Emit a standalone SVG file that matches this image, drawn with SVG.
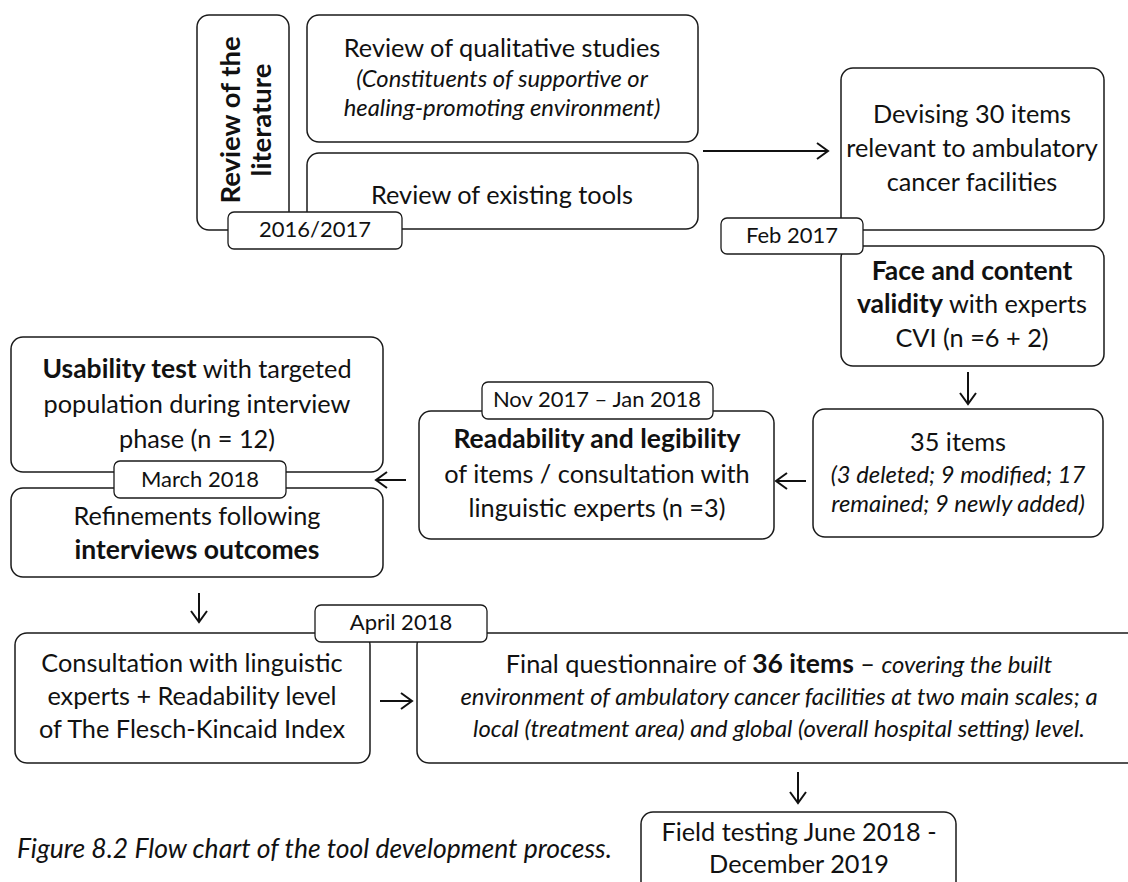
<svg xmlns="http://www.w3.org/2000/svg" width="1128" height="882" viewBox="0 0 1128 882">
<defs>
<style>
.box{fill:#fff;stroke:#1a1a1a;stroke-width:1.5}
.lbl{fill:#fff;stroke:#1a1a1a;stroke-width:1.3}
text{font-family:Lato,"Liberation Sans",sans-serif;font-size:25.3px;fill:#111;text-anchor:middle}
text.l{font-size:22px}
.b{font-weight:bold;font-size:26.5px}
.i{font-style:italic;font-size:23.8px}
.v{font-weight:bold;font-size:27.5px}
.cap{font-style:italic;font-size:26.5px;text-anchor:start}
.conn{stroke:#111;stroke-width:2;fill:none;marker-end:url(#ah)}
</style>
<marker id="ah" markerWidth="16" markerHeight="20" viewBox="-13 -10 16 20" refX="0" refY="0" orient="auto" markerUnits="userSpaceOnUse">
<path d="M-11,-8 L0,0 L-11,8" fill="none" stroke="#111" stroke-width="2"/>
</marker>
</defs>
<rect width="1128" height="882" fill="#fff"/>

<g id="connectors">
<line class="conn" x1="703" y1="151" x2="828" y2="151"/>
<line class="conn" x1="968" y1="372" x2="968" y2="404"/>
<line class="conn" x1="806" y1="481" x2="776" y2="481"/>
<line class="conn" x1="406" y1="480" x2="376" y2="480"/>
<line class="conn" x1="199" y1="593" x2="199" y2="622"/>
<line class="conn" x1="380" y1="701" x2="412" y2="701"/>
<line class="conn" x1="798" y1="772" x2="798" y2="803"/>
</g>

<g id="literature">
<rect class="box" x="197" y="15" width="92" height="215" rx="12"/>
<text class="v" transform="translate(240,120) rotate(-90)">Review of the</text>
<text class="v" transform="translate(271,120) rotate(-90)">literature</text>
</g>

<g id="qualitative">
<rect class="box" x="307" y="15" width="391" height="127" rx="12"/>
<text x="502" y="57">Review of qualitative studies</text>
<text class="i" x="502" y="87">(Constituents of supportive or</text>
<text class="i" x="502" y="116">healing-promoting environment)</text>
</g>

<g id="tools">
<rect class="box" x="307" y="153" width="391" height="76" rx="12"/>
<text x="502" y="204">Review of existing tools</text>
</g>

<g id="label-2016">
<rect class="lbl" x="228" y="212" width="174" height="37" rx="6"/>
<text class="l" x="315" y="237">2016/2017</text>
</g>

<g id="devising">
<rect class="box" x="841" y="68" width="263" height="162" rx="12"/>
<text x="972" y="123">Devising 30 items</text>
<text x="972" y="157">relevant to ambulatory</text>
<text x="972" y="191">cancer facilities</text>
</g>

<g id="face">
<rect class="box" x="841" y="246" width="263" height="120" rx="12"/>
<text class="b" x="972" y="280">Face and content</text>
<text x="972" y="313"><tspan class="b">validity</tspan> with experts</text>
<text x="972" y="347">CVI (n =6 + 2)</text>
</g>

<g id="label-feb">
<rect class="lbl" x="721" y="218" width="142" height="36" rx="6"/>
<text class="l" x="792" y="243">Feb 2017</text>
</g>

<g id="items35">
<rect class="box" x="813" y="409" width="290" height="128" rx="12"/>
<text x="958" y="451">35 items</text>
<text class="i" x="958" y="483">(3 deleted; 9 modified; 17</text>
<text class="i" x="958" y="512">remained; 9 newly added)</text>
</g>

<g id="readability">
<rect class="box" x="419" y="411" width="355" height="128" rx="12"/>
<text class="b" x="597" y="448">Readability and legibility</text>
<text x="597" y="483">of items / consultation with</text>
<text x="597" y="517">linguistic experts (n =3)</text>
</g>

<g id="label-nov">
<rect class="lbl" x="482" y="382" width="231" height="37" rx="6"/>
<text class="l" x="597" y="407">Nov 2017 – Jan 2018</text>
</g>

<g id="usability">
<rect class="box" x="11" y="337" width="372" height="135" rx="12"/>
<text x="197" y="378"><tspan class="b">Usability test</tspan> with targeted</text>
<text x="197" y="413">population during interview</text>
<text x="197" y="448">phase (n = 12)</text>
</g>

<g id="refinements">
<rect class="box" x="11" y="488" width="372" height="89" rx="12"/>
<text x="197" y="525">Refinements following</text>
<text class="b" x="197" y="559">interviews outcomes</text>
</g>

<g id="label-march">
<rect class="lbl" x="114" y="461" width="172" height="37" rx="6"/>
<text class="l" x="200" y="487">March 2018</text>
</g>

<g id="consultation">
<rect class="box" x="15" y="633" width="355" height="130" rx="12"/>
<text x="192" y="672">Consultation with linguistic</text>
<text x="192" y="705">experts + Readability level</text>
<text x="192" y="738">of The Flesch-Kincaid Index</text>
</g>

<g id="final">
<rect class="box" x="417" y="633" width="725" height="130" rx="12"/>
<text x="779" y="673">Final questionnaire of <tspan class="b">36 items</tspan> – <tspan class="i">covering the built</tspan></text>
<text class="i" x="779" y="705">environment of ambulatory cancer facilities at two main scales; a</text>
<text class="i" x="779" y="737">local (treatment area) and global (overall hospital setting) level.</text>
</g>

<g id="label-april">
<rect class="lbl" x="315" y="605" width="172" height="37" rx="6"/>
<text class="l" x="401" y="630">April 2018</text>
</g>

<g id="field">
<rect class="box" x="641" y="812" width="315" height="90" rx="12"/>
<text x="799" y="841">Field testing June 2018 -</text>
<text x="799" y="873">December 2019</text>
</g>

<g id="caption">
<text class="cap" x="17" y="858">Figure 8.2 Flow chart of the tool development process.</text>
</g>
</svg>
